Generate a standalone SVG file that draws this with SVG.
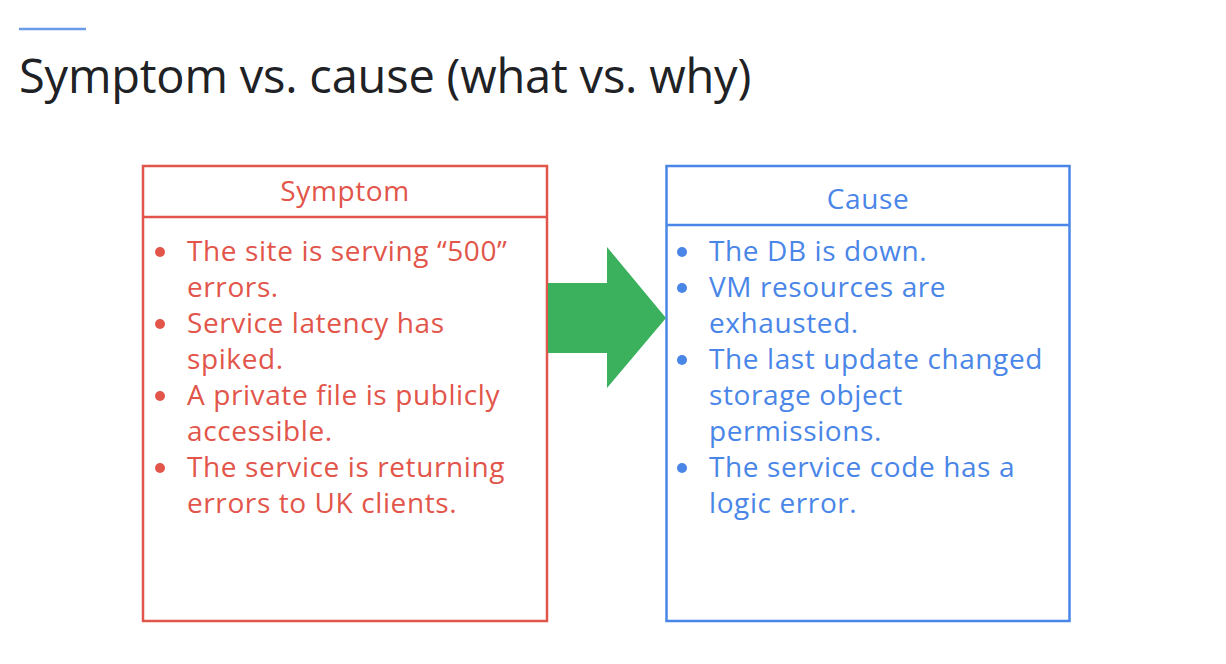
<svg xmlns="http://www.w3.org/2000/svg" width="1226" height="664" viewBox="0 0 1226 664">
  <style>
    .title { font-family: "Open Sans", "Liberation Sans", sans-serif; font-size: 47px; letter-spacing: -0.2px; fill: #202124; }
    .red { fill: #e2554a; }
    .blue { fill: #4a86e8; }
    .txt { font-family: "Open Sans", "Liberation Sans", sans-serif; font-size: 28px; letter-spacing: 0.6px; }
    .head { text-anchor: middle; }
    .box { fill: #ffffff; stroke-width: 2.5; }
  </style>
  <rect width="1226" height="664" fill="#ffffff"/>
  <line x1="19" y1="29" x2="86" y2="29" stroke="#6b9be6" stroke-width="2.5"/>
  <text class="title" x="19" y="93">Symptom vs. cause (what vs. why)</text>

  <g id="symptom">
    <rect class="box" x="143" y="166" width="404" height="455" stroke="#e2554a"/>
    <line x1="143" y1="217" x2="547" y2="217" stroke="#e2554a" stroke-width="2.5"/>
    <text class="txt red head" x="345" y="201">Symptom</text>
    <g class="red">
      <circle cx="160" cy="252" r="5"/>
      <circle cx="160" cy="324" r="5"/>
      <circle cx="160" cy="396" r="5"/>
      <circle cx="160" cy="468" r="5"/>
    </g>
    <text class="txt red">
      <tspan x="187" y="261">The site is serving “500”</tspan>
      <tspan x="187" y="297">errors.</tspan>
      <tspan x="187" y="333">Service latency has</tspan>
      <tspan x="187" y="369">spiked.</tspan>
      <tspan x="187" y="405">A private file is publicly</tspan>
      <tspan x="187" y="441">accessible.</tspan>
      <tspan x="187" y="477">The service is returning</tspan>
      <tspan x="187" y="513">errors to UK clients.</tspan>
    </text>
  </g>

  <g id="cause">
    <rect class="box" x="666.5" y="166" width="403" height="455" stroke="#4a86e8"/>
    <line x1="666.5" y1="225" x2="1069.5" y2="225" stroke="#4a86e8" stroke-width="2.5"/>
    <text class="txt blue head" x="868" y="209">Cause</text>
    <g class="blue">
      <circle cx="682" cy="252" r="5"/>
      <circle cx="682" cy="288" r="5"/>
      <circle cx="682" cy="360" r="5"/>
      <circle cx="682" cy="468" r="5"/>
    </g>
    <text class="txt blue">
      <tspan x="709" y="261">The DB is down.</tspan>
      <tspan x="709" y="297">VM resources are</tspan>
      <tspan x="709" y="333">exhausted.</tspan>
      <tspan x="709" y="369">The last update changed</tspan>
      <tspan x="709" y="405">storage object</tspan>
      <tspan x="709" y="441">permissions.</tspan>
      <tspan x="709" y="477">The service code has a</tspan>
      <tspan x="709" y="513">logic error.</tspan>
    </text>
  </g>

  <g id="connectors">
    <polygon points="548,283 607,283 607,247 666,318 607,388 607,353 548,353" fill="#3bb15e"/>
  </g>
</svg>
